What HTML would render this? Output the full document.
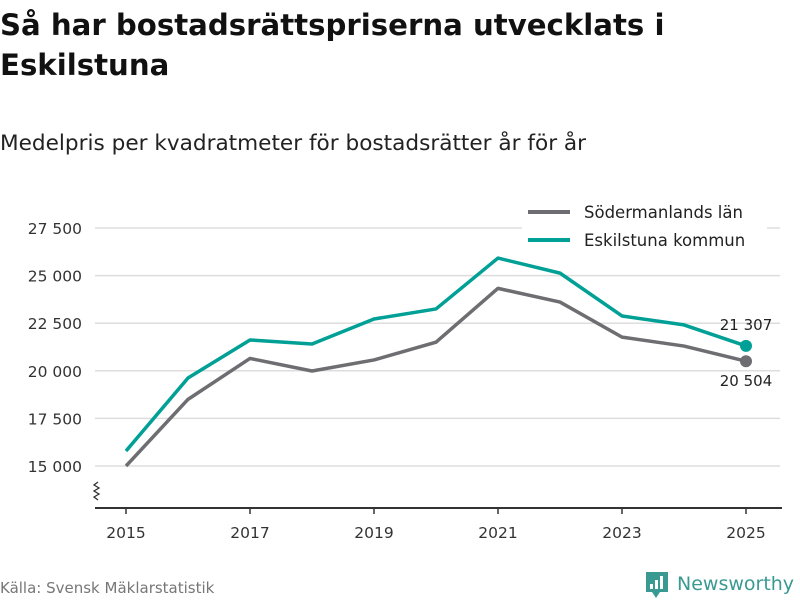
<!DOCTYPE html>
<html><head><meta charset="utf-8"><style>
body{margin:0;background:#fff;font-family:"DejaVu Sans","Liberation Sans",sans-serif;}
#wrap{position:relative;width:800px;height:600px;overflow:hidden;}
h1{position:absolute;left:0;top:5px;margin:0;font-size:29.2px;line-height:40px;font-weight:bold;color:#111;width:700px;}
.sub{position:absolute;left:0;top:131px;font-size:21.6px;color:#222;}
.src{position:absolute;left:0;top:579px;font-size:15px;color:#777;}
.logo{position:absolute;left:645px;top:570px;}
svg text{font-family:"DejaVu Sans","Liberation Sans",sans-serif;}
</style></head><body><div id="wrap">
<h1>Så har bostadsrättspriserna utvecklats i Eskilstuna</h1>
<div class="sub">Medelpris per kvadratmeter för bostadsrätter år för år</div>
<div class="src">Källa: Svensk Mäklarstatistik</div>
<svg class="logo" width="155" height="30">
<path d="M1,2 h22 v20 h-8 l-4,6 l-4,-6 h-6 z" fill="#3a9a92"/>
<rect x="5" y="14" width="3" height="5" fill="#fff"/><rect x="10" y="10" width="3" height="9" fill="#fff"/><rect x="15" y="6" width="3" height="13" fill="#fff"/>
<text x="32" y="20" font-size="19" fill="#3a9a92">Newsworthy</text></svg>
<svg id="c" width="800" height="600" style="position:absolute;left:0;top:0"></svg>
</div>
<script>
const years=[2015,2016,2017,2018,2019,2020,2021,2022,2023,2024,2025];
const sodermanland=[15000,18500,20650,19990,20570,21500,24330,23610,21770,21300,20504];
const eskilstuna=[15790,19620,21620,21410,22720,23250,25920,25130,22880,22410,21307];
const yTicks=[15000,17500,20000,22500,25000,27500];
const yTickLabels=["15 000","17 500","20 000","22 500","25 000","27 500"];
const xTicks=[2015,2017,2019,2021,2023,2025];
const NS="http://www.w3.org/2000/svg";
const svg=document.getElementById('c');
const x=v=>126+(v-2015)*62;
const y=v=>466-(v-15000)/2500*47.6;
function mk(t,a){const e=document.createElementNS(NS,t);for(const k in a)e.setAttribute(k,a[k]);svg.appendChild(e);return e;}
yTicks.forEach((t,i)=>{
 const g=mk('line',{x1:95,x2:780,y1:y(t),y2:y(t),stroke:'#ddd','stroke-width':1.5});
 
 
 const l=mk('text',{x:82,y:y(t)+6,'text-anchor':'end','font-size':15.5,fill:'#333'});
 l.textContent=yTickLabels[i];
 
 
});
const ax=mk('line',{x1:95,x2:782,y1:508,y2:508,stroke:'#333','stroke-width':2});


const br=mk('path',{d:'M98,482 l-4,3 l5,3 l-5,3 l5,3 l-5,3 l4,3',fill:'none',stroke:'#333','stroke-width':1.3});


xTicks.forEach(t=>{
 const tk=mk('line',{x1:x(t),x2:x(t),y1:508,y2:514,stroke:'#333','stroke-width':1.5});
 
 
 const l=mk('text',{x:x(t),y:538,'text-anchor':'middle','font-size':15.5,fill:'#333'});
 l.textContent=t;
 
 
});
function series(vals,col,name){
 const p=mk('polyline',{points:vals.map((v,i)=>x(years[i])+','+y(v)).join(' '),fill:'none',stroke:col,'stroke-width':3.5,'stroke-linejoin':'round'});
 
 
 const n=vals.length-1;
 const c=mk('circle',{cx:x(years[n]),cy:y(vals[n]),r:6,fill:col});
 
 
}
series(sodermanland,'#6e6d72','sodermanland');
series(eskilstuna,'#00a096','eskilstuna');
const fmt=v=>String(v).replace(/\B(?=(\d{3})+$)/g,' ');
const l1=mk('text',{x:746,y:y(eskilstuna[10])-16,'text-anchor':'middle','font-size':15,fill:'#222'});
l1.textContent=fmt(eskilstuna[10]);


const l2=mk('text',{x:746,y:y(sodermanland[10])+25,'text-anchor':'middle','font-size':15,fill:'#222'});
l2.textContent=fmt(sodermanland[10]);


const bg=mk('rect',{x:522,y:198,width:245,height:60,fill:'#fff'});


[['Södermanlands län','#6e6d72',212],['Eskilstuna kommun','#00a096',240]].forEach(([t,c,yy])=>{
 const ln=mk('line',{x1:528,x2:570,y1:yy,y2:yy,stroke:c,'stroke-width':4});
 
 
 const tx=mk('text',{x:584,y:yy+6,'font-size':16.5,fill:'#222'});
 tx.textContent=t;
 
 
});
</script></body></html>
